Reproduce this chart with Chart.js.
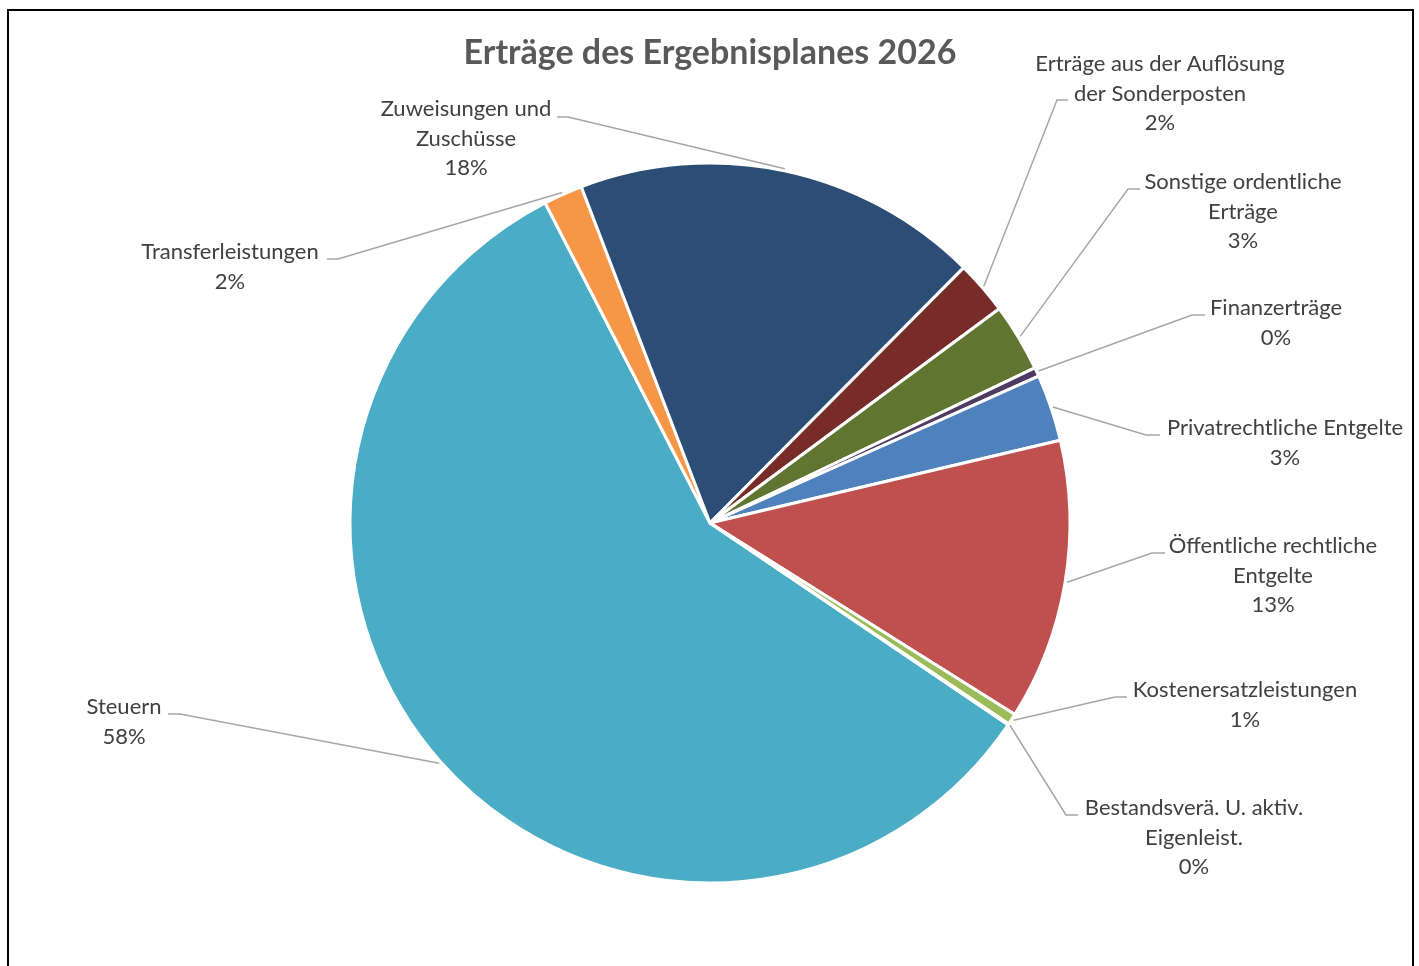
<!DOCTYPE html>
<html lang="de">
<head>
<meta charset="utf-8">
<title>Erträge des Ergebnisplanes 2026</title>
<script src="https://cdn.jsdelivr.net/npm/chart.js@4"></script>
<style>
    html, body { margin: 0; padding: 0; background: #fff; }
    #wrap { position: relative; width: 1419px; height: 966px; overflow: hidden; }
    #frame { position: absolute; left: 7px; top: 9px; width: 1407px; height: 1000px; border: 2px solid #000; box-sizing: border-box; }
    #chart { position: absolute; left: 0; top: 0; }
</style>
</head>
<body>
<div id="wrap">
    <div id="frame"></div>
    <canvas id="chart" width="1419" height="966"></canvas>
</div>
<script>
// Daten (im Uhrzeigersinn, beginnend mit Steuern)
const categories = [
    'Steuern',
    'Transferleistungen',
    ['Zuweisungen und', 'Zuschüsse'],
    ['Erträge aus der Auflösung', 'der Sonderposten'],
    ['Sonstige ordentliche', 'Erträge'],
    'Finanzerträge',
    'Privatrechtliche Entgelte',
    ['Öffentliche rechtliche', 'Entgelte'],
    'Kostenersatzleistungen',
    ['Bestandsverä. U. aktiv.', 'Eigenleist.']
];
const shares = [57.9, 1.75, 18.25, 2.4, 3.05, 0.4, 3.0, 12.6, 0.5, 0.05];
const sliceColors = ['#4BACC6', '#F79646', '#2C4D75', '#772C2A', '#5F7530',
                     '#4D3B62', '#4F81BD', '#C0504D', '#9BBB59', '#8064A2'];
const chartTitle = 'Erträge des Ergebnisplanes 2026';

// Position der Beschriftungen (Textmitte, erste Zeile) und Anfang der Führungslinie
const labelLayout = [
    { x: 124,  y: 707, ax: 168,  bx: 180,  ay: 714 },
    { x: 230,  y: 252, ax: 327,  bx: 338,  ay: 259 },
    { x: 466,  y: 109, ax: 557,  bx: 568,  ay: 117 },
    { x: 1160, y: 64,  ax: 1068, bx: 1057, ay: 100 },
    { x: 1243, y: 182, ax: 1140, bx: 1128, ay: 189 },
    { x: 1276, y: 308, ax: 1205, bx: 1192, ay: 315 },
    { x: 1285, y: 428, ax: 1160, bx: 1146, ay: 435 },
    { x: 1273, y: 546, ax: 1165, bx: 1152, ay: 553 },
    { x: 1245, y: 690, ax: 1127, bx: 1115, ay: 697 },
    { x: 1194, y: 808, ax: 1078, bx: 1066, ay: 815 }
];

const FONT = 'Lato, "Open Sans", sans-serif';

// Beschriftungen mit Führungslinien und Titel
const outsideLabels = {
    id: 'outsideLabels',
    afterDatasetsDraw(chart) {
        const ctx = chart.ctx;
        const meta = chart.getDatasetMeta(0);
        const total = shares.reduce((a, b) => a + b, 0);
        ctx.save();

        meta.data.forEach((arc, i) => {
            const p = arc.getProps(['x', 'y', 'startAngle', 'endAngle', 'outerRadius'], true);
            const mid = (p.startAngle + p.endAngle) / 2;
            const r = p.outerRadius + 2;
            const ex = p.x + Math.cos(mid) * r;
            const ey = p.y + Math.sin(mid) * r;
            const l = labelLayout[i];

            ctx.strokeStyle = '#a6a6a6';
            ctx.lineWidth = 1.5;
            ctx.beginPath();
            ctx.moveTo(l.ax, l.ay);
            ctx.lineTo(l.bx, l.ay);
            ctx.lineTo(ex, ey);
            ctx.stroke();

            const name = Array.isArray(categories[i]) ? categories[i] : [categories[i]];
            const lines = name.concat(Math.round(shares[i] / total * 100) + '%');
            ctx.fillStyle = '#404040';
            ctx.font = '22px ' + FONT;
            ctx.textAlign = 'center';
            ctx.textBaseline = 'middle';
            lines.forEach((t, k) => ctx.fillText(t, l.x, l.y + k * 29.5));
        });

        ctx.fillStyle = '#595959';
        ctx.font = 'bold 34px ' + FONT;
        ctx.textAlign = 'center';
        ctx.textBaseline = 'middle';
        ctx.fillText(chartTitle, 710, 53);
        ctx.restore();
    }
};

const ctx = document.getElementById('chart').getContext('2d');
new Chart(ctx, {
    type: 'pie',
    data: {
        labels: categories,
        datasets: [{
            data: shares,
            backgroundColor: sliceColors,
            borderColor: '#ffffff',
            borderWidth: 3
        }]
    },
    options: {
        responsive: false,
        animation: false,
        rotation: 124.1,
        radius: 360,
        layout: { padding: { left: 300, right: 299, top: 120, bottom: 40 } },
        plugins: {
            legend: { display: false },
            tooltip: { enabled: false }
        }
    },
    plugins: [outsideLabels]
});
</script>
</body>
</html>
